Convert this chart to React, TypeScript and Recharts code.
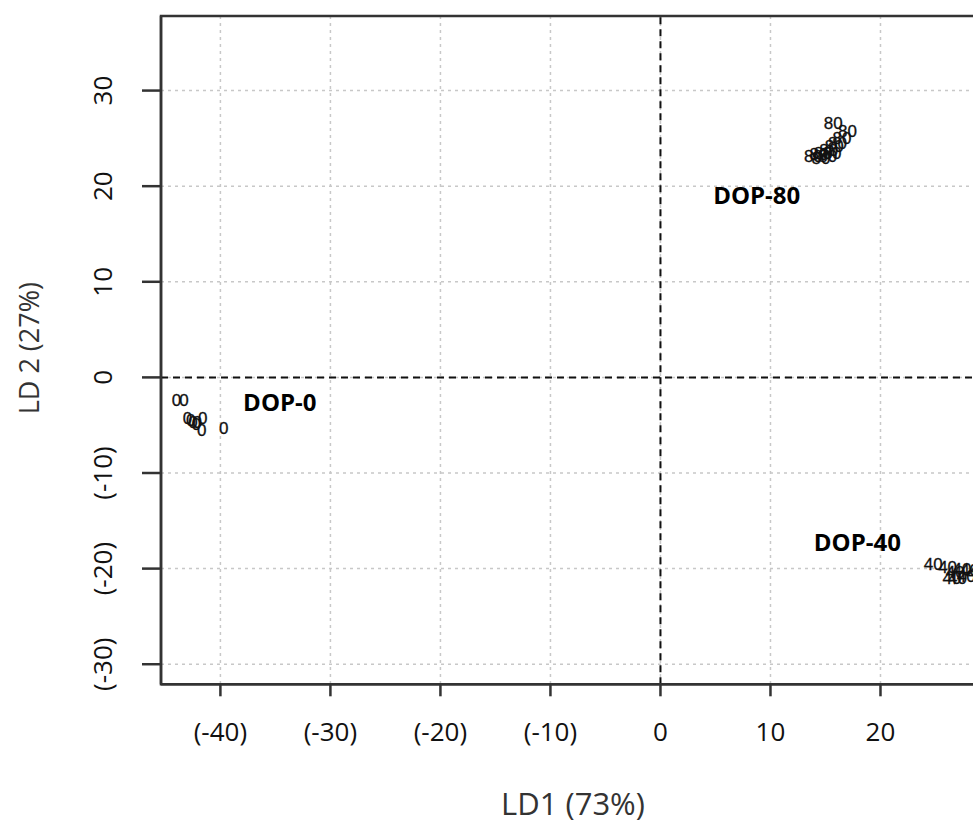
import React from 'react';
import {
  ScatterChart,
  Scatter,
  XAxis,
  YAxis,
  CartesianGrid,
  ReferenceLine,
  ReferenceArea,
  Label,
} from 'recharts';

// ── Data ──────────────────────────────────────────────────────────────────────
const X_TICKS = [-40, -30, -20, -10, 0, 10, 20];
const Y_TICKS = [-30, -20, -10, 0, 10, 20, 30];
const X_DOMAIN: [number, number] = [-45.4, 29.5];
const Y_DOMAIN: [number, number] = [-32.1, 37.8];

// LD1, LD2 scores per sample
const DOP0_POINTS = [
  [-44.0, -2.4], [-43.3, -2.4], [-43.0, -4.3], [-42.5, -4.7], [-42.1, -4.7],
  [-41.6, -4.2], [-41.7, -5.5], [-39.7, -5.3], [-42.7, -4.5], [-42.2, -4.9],
];
const DOP40_POINTS = [
  [24.8, -19.5], [26.1, -19.8], [26.8, -20.4], [27.0, -21.0], [27.4, -20.0],
  [27.8, -20.8], [26.5, -21.0], [28.1, -20.2], [28.8, -20.5],
];
const DOP80_POINTS = [
  [15.7, 26.6], [17.0, 25.8], [16.5, 25.0], [16.1, 24.5], [15.8, 24.2], [15.3, 23.8],
  [14.8, 23.5], [14.4, 23.4], [13.9, 23.1], [14.6, 22.9], [15.2, 23.1], [15.6, 23.5],
];
const GROUP_LABELS = [
  { x: -34.6, y: -2.6, text: 'DOP-0' },
  { x: 17.9, y: -17.3, text: 'DOP-40' },
  { x: 8.75, y: 19.0, text: 'DOP-80' },
];

const AXIS_COLOR = '#333';
const FONT = '"Open Sans", sans-serif';

const fmt = (v: number) => (v < 0 ? `(${v})` : `${v}`);
const toXY = (pts: number[][]) => pts.map(([x, y]) => ({ x, y }));

// ── Ticks ─────────────────────────────────────────────────────────────────────
function XTick({ x, y, payload }: any) {
  return (
    <text x={x} y={y} dy="0.35em" textAnchor="middle" fontSize={26} fill="#111" fontFamily={FONT}>
      {fmt(payload.value)}
    </text>
  );
}

function YTick({ x, y, payload }: any) {
  return (
    <text
      x={x}
      y={y}
      dy="0.35em"
      textAnchor="middle"
      transform={`rotate(-90 ${x} ${y})`}
      fontSize={26}
      fill="#111"
      fontFamily={FONT}
    >
      {fmt(payload.value)}
    </text>
  );
}

// sample labels drawn as text at each point
const pointText = (label: string) => (props: any) => (
  <text
    x={props.cx}
    y={props.cy}
    dy="0.35em"
    textAnchor="middle"
    fontSize={17}
    fill="#111"
    stroke="#111"
    strokeWidth={0.3}
    fontFamily='"Liberation Sans", Arial, sans-serif'
  >
    {label}
  </text>
);

const groupText = (props: any) => (
  <text
    x={props.cx}
    y={props.cy}
    dy="0.35em"
    textAnchor="middle"
    fontSize={24}
    fontWeight={700}
    fill="#000"
    fontFamily={FONT}
  >
    {props.payload.text}
  </text>
);

export default function App() {
  return (
    <div
      style={{
        position: 'absolute',
        left: 0,
        top: 0,
        width: 973,
        height: 820,
        overflow: 'hidden',
        background: '#fff',
      }}
    >
      <ScatterChart width={1000} height={820} margin={{ top: 16, right: 15, bottom: 0, left: 0 }}>
        <CartesianGrid stroke="#c8c8c8" strokeWidth={1.5} strokeDasharray="3 4" />

        <XAxis
          type="number"
          dataKey="x"
          domain={X_DOMAIN}
          ticks={X_TICKS}
          allowDataOverflow
          height={135.7}
          tickSize={12}
          tickMargin={36}
          axisLine={{ stroke: AXIS_COLOR, strokeWidth: 2.5 }}
          tickLine={{ stroke: AXIS_COLOR, strokeWidth: 2.5 }}
          tick={<XTick />}
        >
          <Label
            content={({ viewBox }: any) => (
              <text
                x={viewBox.x + viewBox.width / 2}
                y={viewBox.y + 120}
                dy="0.35em"
                textAnchor="middle"
                fontSize={31}
                fill={AXIS_COLOR}
                fontFamily={FONT}
              >
                LD1 (73%)
              </text>
            )}
          />
        </XAxis>

        <YAxis
          type="number"
          dataKey="y"
          domain={Y_DOMAIN}
          ticks={Y_TICKS}
          allowDataOverflow
          width={161}
          tickSize={19}
          tickMargin={39}
          axisLine={{ stroke: AXIS_COLOR, strokeWidth: 2.5 }}
          tickLine={{ stroke: AXIS_COLOR, strokeWidth: 2.5 }}
          tick={<YTick />}
        >
          <Label
            content={({ viewBox }: any) => {
              const cx = viewBox.x + 30;
              const cy = viewBox.y + viewBox.height / 2 - 2;
              return (
                <text
                  x={cx}
                  y={cy}
                  dy="0.35em"
                  textAnchor="middle"
                  transform={`rotate(-90 ${cx} ${cy})`}
                  fontSize={27}
                  fill={AXIS_COLOR}
                  fontFamily={FONT}
                >
                  LD 2 (27%)
                </text>
              );
            }}
          />
        </YAxis>

        {/* plot frame */}
        <ReferenceArea
          x1={X_DOMAIN[0]}
          x2={X_DOMAIN[1]}
          y1={Y_DOMAIN[0]}
          y2={Y_DOMAIN[1]}
          fill="none"
          stroke={AXIS_COLOR}
          strokeWidth={2.5}
        />

        {/* zero lines */}
        <ReferenceLine x={0} stroke="#111" strokeWidth={2} strokeDasharray="7 5" />
        <ReferenceLine y={0} stroke="#111" strokeWidth={2} strokeDasharray="7 5" />

        <Scatter data={toXY(DOP0_POINTS)} shape={pointText('0')} isAnimationActive={false} />
        <Scatter data={toXY(DOP40_POINTS)} shape={pointText('40')} isAnimationActive={false} />
        <Scatter data={toXY(DOP80_POINTS)} shape={pointText('80')} isAnimationActive={false} />
        <Scatter data={GROUP_LABELS} shape={groupText} isAnimationActive={false} />
      </ScatterChart>
    </div>
  );
}
